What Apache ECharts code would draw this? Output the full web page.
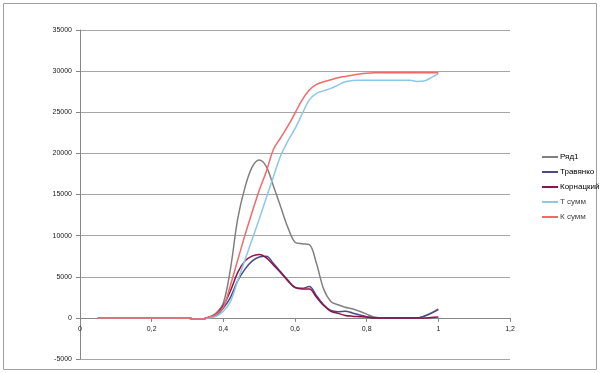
<!DOCTYPE html>
<html>
<head>
<meta charset="utf-8">
<script src="https://cdn.jsdelivr.net/npm/echarts@6/dist/echarts.min.js"></script>
<style>
html,body{margin:0;padding:0;background:#fff;}
#c{width:600px;height:373px;}
</style>
</head>
<body>
<div id="c"></div>
<script>
const xVals = [0.05,0.1,0.15,0.2,0.25,0.3,0.32,0.34,0.36,0.38,0.40,0.42,0.44,0.46,0.48,0.50,0.52,0.54,0.56,0.58,0.60,0.62,0.64,0.66,0.68,0.70,0.72,0.74,0.76,0.78,0.80,0.82,0.84,0.86,0.88,0.90,0.92,0.94,0.96,0.98,1.00];
const ryad1 =    [0,0,0,0,0,0,-150,-150,100,600,1800,6000,12000,15800,18300,19200,18400,16000,13500,11000,9200,9000,8900,6600,3500,2000,1600,1300,1100,800,450,100,0,0,0,0,0,0,200,600,1100];
const travyanko =[0,0,0,0,0,0,-150,-150,50,300,1200,2500,4500,5900,6900,7400,7500,6600,5600,4600,3700,3600,3800,2700,1600,900,750,800,600,350,150,0,0,0,0,0,0,0,200,550,1000];
const kornatsky =[0,0,0,0,0,0,-150,-150,50,400,1500,3300,5500,6900,7500,7700,7300,6400,5500,4500,3700,3500,3500,2500,1500,800,550,300,200,150,100,0,0,0,0,0,0,0,0,50,100];
const tSumm =    [0,0,0,0,0,0,-150,-150,0,200,800,2000,4500,7000,9500,12000,14600,17200,19700,21500,23000,24800,26500,27300,27600,27900,28300,28700,28850,28900,28900,28900,28900,28900,28900,28900,28900,28750,28800,29200,29700];
const kSumm =    [0,0,0,0,0,0,-150,-150,100,400,1300,4000,7000,10000,12800,15500,17800,20500,21900,23300,24900,26500,27700,28400,28700,28950,29200,29350,29500,29650,29750,29800,29800,29800,29800,29800,29800,29800,29800,29800,29800];
const seriesNames = ['Ряд1','Травянко','Корнацкий','Т сумм','К сумм'];
const seriesColors = ['#808080','#4a4a8c','#8c1446','#8cc8e8','#f06a6a'];
const yTicks = [-5000,0,5000,10000,15000,20000,25000,30000,35000];
const xTicks = [0,0.2,0.4,0.6,0.8,1,1.2];

const allData = [ryad1, travyanko, kornatsky, tSumm, kSumm];
const yMin = yTicks[0], yMax = yTicks[yTicks.length-1];
const gTop = 30, gBottom = 14, H = 373;
const plotH = H - gTop - gBottom;
// second grid whose bottom edge coincides with value 0 of the main grid (x axis crossing at 0)
const zeroBottom = gBottom + plotH * (0 - yMin) / (yMax - yMin);

const chart = echarts.init(document.getElementById('c'));
chart.setOption({
  animation:false,
  backgroundColor:'#fff',
  graphic:[{type:'rect',shape:{x:3.5,y:3.5,width:593,height:366},style:{fill:'none',stroke:'#a0a0a0',lineWidth:1}}],
  grid:[
    {left:80,right:90,top:gTop,bottom:gBottom},
    {left:80,right:90,top:gTop,bottom:zeroBottom}
  ],
  legend:{
    orient:'vertical',left:537,top:147,itemWidth:16,itemHeight:2,itemGap:5,icon:'rect',
    textStyle:{fontSize:8,fontFamily:'Liberation Sans, Arial',color:'#000',lineHeight:10,padding:[0,0,0,-3]},
    data:seriesNames.map((n,i)=>({name:n,textStyle:{color:i<3?'#000':'#444'}}))
  },
  xAxis:[
    {gridIndex:0,type:'value',min:xTicks[0],max:xTicks[xTicks.length-1],interval:0.2,
     axisLine:{show:false},axisTick:{show:false},axisLabel:{show:false},splitLine:{show:false}},
    {gridIndex:1,type:'value',min:xTicks[0],max:xTicks[xTicks.length-1],interval:0.2,
     axisLine:{show:true,onZero:false,lineStyle:{color:'#868686'}},
     axisTick:{show:true,length:4,lineStyle:{color:'#868686'}},
     splitLine:{show:false},
     axisLabel:{fontSize:7,fontFamily:'Liberation Sans, Arial',color:'#222',margin:8,
       formatter:v=>{const t=xTicks.find(k=>Math.abs(k-v)<1e-9);return t===undefined?'':String(t).replace('.',',');}}}
  ],
  yAxis:[
    {gridIndex:0,type:'value',min:yMin,max:yMax,interval:5000,
     axisLine:{show:true,onZero:false,lineStyle:{color:'#868686'}},
     axisTick:{show:true,length:4,lineStyle:{color:'#868686'}},
     splitLine:{show:true,lineStyle:{color:'#a6a6a6',width:1}},
     axisLabel:{fontSize:7,fontFamily:'Liberation Sans, Arial',color:'#222',margin:8,formatter:v=>String(v)}},
    {gridIndex:1,type:'value',min:0,max:yMax,show:false}
  ],
  series:allData.map((arr,i)=>({
    name:seriesNames[i],type:'line',xAxisIndex:0,yAxisIndex:0,smooth:0.35,showSymbol:false,symbol:'none',
    data:xVals.map((x,j)=>[x,arr[j]]),
    lineStyle:{color:seriesColors[i],width:1.5},
    itemStyle:{color:seriesColors[i]}
  }))
});
</script>
</body>
</html>
